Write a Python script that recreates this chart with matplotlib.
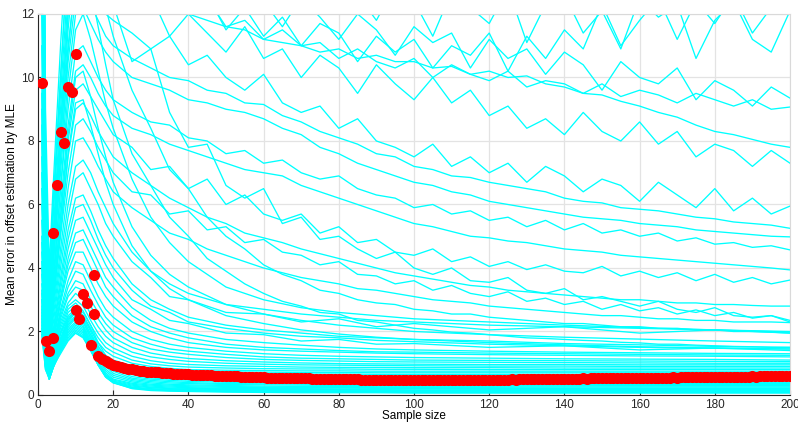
import matplotlib
matplotlib.use("Agg")
import matplotlib.pyplot as plt

# Sample-size grids on which the error curves are recorded
upper_x = [1, 2, 3, 4, 6, 8, 10, 12, 14, 16, 18] + list(range(20, 201, 5))
knot_x = [1, 2, 3, 4, 6, 8, 10, 12, 14, 16, 18, 20, 25, 30, 35, 40, 50, 60,
          70, 80, 90, 100, 120, 140, 160, 180, 200]

# Slowly converging trials (large errors)
upper_curves = [
    [30, 9, 4.0, 6.5, 11, 15, 18, 19, 19, 18.5, 17.5,
     16.5, 15.2, 15.8, 14.0, 14.6, 13.2, 13.9, 13.4, 12.5, 13.6, 12.9, 12.1, 13.3, 12.6, 11.8, 12.9, 12.4,
     11.3, 12.7, 12.2, 11.7, 12.8, 11.1, 12.3, 12.6, 11.4, 12.1, 10.9, 12.5, 11.9, 12.3, 10.6, 11.8, 12.4,
     11.2, 10.8, 12.1],
    [27, 7.5, 3.2, 5.8, 10, 14, 17, 17.5, 17, 16.3, 15.6,
     14.8, 14.1, 13.2, 12.9, 12.1, 12.6, 11.5, 12.2, 11.3, 11.9, 11.0, 11.7, 11.4, 10.5, 11.3, 10.8, 11.2,
     10.3, 11.0, 10.7, 11.4, 10.2, 11.3, 10.6, 11.5, 10.9, 12.3, 11.0, 11.8, 12.5, 11.2, 12.4, 11.7, 12.6,
     11.4, 12.2, 12.0],
    [28, 8, 3.5, 6, 10, 14, 16.5, 17, 16.5, 16, 15.5,
     15.0, 14.6, 13.2, 14.0, 12.9, 13.3, 12.1, 12.8, 12.4, 11.6, 12.5, 11.9, 11.2, 12.0, 11.5, 10.7, 11.6,
     11.1, 11.4, 10.3, 11.2, 10.6, 10.9, 10.1, 10.8, 10.4, 9.6, 10.5, 10.0, 9.8, 10.3, 9.3, 9.9, 9.6, 9.1,
     9.7, 9.35],
    [26, 7, 3, 5.5, 9.5, 13, 15.5, 16, 15.5, 15, 14.5,
     14.0, 13.1, 13.3, 12.4, 12.2, 12.5, 11.6, 11.8, 11.2, 11.5, 11.0, 11.1, 10.6, 10.9, 10.5, 10.3, 10.6,
     10.0, 10.4, 10.1, 9.9, 10.2, 9.7, 9.9, 9.8, 9.5, 9.8, 9.4, 9.6, 9.45, 9.2, 9.5, 9.3, 9.1, 9.3, 9.0,
     9.07],
    [25, 7, 3, 5, 9, 12.5, 15, 15.5, 15, 14.5, 14,
     13.6, 13.0, 12.6, 12.3, 12.0, 11.8, 11.6, 11.5, 11.2, 11.1, 11.0, 10.8, 10.9, 10.6, 10.7, 10.5, 10.5,
     10.3, 10.35, 10.1, 10.2, 10.0, 10.05, 9.8, 9.7, 9.5, 9.45, 9.25, 9.1, 8.9, 8.75, 8.5, 8.3, 8.2, 8.05,
     7.9, 7.8],
    [24, 6.5, 2.8, 4.8, 8.5, 12, 14, 14.5, 14, 13.5, 13,
     12.8, 12.2, 12.6, 11.3, 12.0, 11.4, 10.8, 11.6, 10.6, 10.9, 10.0, 10.7, 10.3, 9.5, 10.4, 9.8, 9.3,
     10.0, 9.2, 9.6, 8.8, 9.1, 8.4, 8.7, 8.2, 8.9, 8.3, 8.0, 8.6, 7.9, 8.3, 7.5, 7.9, 7.7, 7.2, 7.7, 7.3],
    [22, 6, 2.5, 4.5, 8, 11, 13, 13.5, 13, 12.5, 12,
     11.8, 11.4, 10.9, 11.3, 10.4, 10.7, 10.0, 9.6, 10.1, 9.2, 8.9, 9.1, 8.4, 8.7, 8.0, 7.8, 7.5, 7.9, 7.2,
     7.5, 7.0, 7.3, 6.7, 7.2, 6.9, 6.4, 6.8, 6.6, 6.1, 6.7, 6.3, 5.9, 6.5, 5.8, 6.2, 5.7, 5.95],
    [21, 5.5, 2.3, 4.2, 7.5, 10.5, 12.5, 12.8, 12.3, 11.8, 11.3,
     11.0, 10.6, 10.3, 10.0, 9.9, 9.6, 9.5, 9.2, 9.15, 8.8, 8.6, 8.3, 8.1, 7.9, 7.6, 7.5, 7.2, 7.1, 6.9,
     6.85, 6.7, 6.6, 6.5, 6.4, 6.2, 6.1, 6.05, 5.9, 5.85, 5.8, 5.7, 5.6, 5.55, 5.45, 5.4, 5.35, 5.25],
    [20, 5, 2.1, 4, 7, 10, 12, 12.2, 11.7, 11.2, 10.8,
     10.5, 10.0, 9.8, 9.6, 9.3, 9.2, 9.0, 8.9, 8.7, 8.4, 8.2, 7.8, 7.6, 7.3, 7.1, 6.9, 6.7, 6.6, 6.4, 6.3,
     6.1, 6.0, 5.9, 5.8, 5.7, 5.6, 5.55, 5.5, 5.4, 5.35, 5.3, 5.2, 5.15, 5.1, 5.05, 5.0, 4.98],
    [18, 4.5, 1.9, 3.6, 6.5, 9, 10.8, 11, 10.5, 10, 9.6,
     9.3, 8.9, 8.6, 8.5, 8.1, 8.0, 7.6, 7.7, 7.3, 7.4, 7.0, 6.8, 6.9, 6.5, 6.3, 6.2, 5.9, 6.0, 5.7, 5.8,
     5.5, 5.6, 5.3, 5.5, 5.2, 5.4, 5.1, 5.2, 5.0, 5.1, 4.85, 4.95, 4.75, 4.8, 4.65, 4.7, 4.57],
    [17, 4.2, 1.8, 3.4, 6, 8.5, 10.2, 10.4, 10, 9.5, 9.1,
     8.8, 8.4, 8.2, 7.9, 7.7, 7.5, 7.3, 7.1, 7.0, 6.9, 6.6, 6.4, 6.2, 6.0, 5.8, 5.6, 5.4, 5.3, 5.15, 5.0,
     4.95, 4.85, 4.8, 4.7, 4.6, 4.55, 4.5, 4.4, 4.35, 4.3, 4.25, 4.2, 4.15, 4.1, 4.05, 4.0, 3.94],
    [16, 4, 1.7, 3.2, 5.6, 8, 9.6, 9.8, 9.4, 9, 8.6,
     8.2, 7.8, 7.1, 7.2, 6.5, 6.8, 6.0, 6.3, 5.7, 5.5, 5.7, 5.1, 5.3, 4.8, 4.9, 4.5, 4.4, 4.6, 4.2, 4.35,
     4.05, 4.2, 3.95, 4.1, 3.9, 3.85, 4.05, 3.75, 3.9, 3.7, 3.85, 3.6, 3.8, 3.55, 3.7, 3.5, 3.62],
    [15, 3.8, 1.6, 3, 5.2, 7.5, 9, 9.2, 8.8, 8.3, 7.9,
     7.5, 7.0, 6.6, 6.2, 5.9, 5.6, 5.4, 5.1, 4.95, 4.8, 4.6, 4.45, 4.3, 4.15, 4.0, 3.85, 3.75, 3.65, 3.55,
     3.45, 3.4, 3.3, 3.25, 3.2, 3.15, 3.1, 3.05, 3.0, 3.0, 2.95, 2.9, 2.9, 2.85, 2.85, 2.82, 2.8, 2.8],
    [14, 3.6, 1.5, 2.8, 5, 7, 8.5, 8.7, 8.3, 7.8, 7.4,
     7.0, 6.4, 6.3, 5.7, 5.8, 5.2, 5.3, 4.8, 4.9, 4.5, 4.4, 4.1, 4.2, 3.8, 3.75, 3.5, 3.6, 3.3, 3.45, 3.2,
     3.1, 3.25, 2.95, 3.05, 2.85, 2.95, 2.7, 2.85, 2.65, 2.75, 2.55, 2.68, 2.5, 2.6, 2.42, 2.5, 2.35],
    [13, 3.4, 1.4, 2.6, 4.6, 6.5, 8, 8.1, 7.7, 7.2, 6.8,
     6.4, 5.9, 5.5, 5.1, 4.9, 4.6, 4.4, 4.2, 4.0, 3.85, 3.7, 3.6, 3.5, 3.35, 3.3, 3.2, 3.1, 3.0, 2.95, 2.9,
     2.8, 2.75, 2.7, 2.65, 2.6, 2.55, 2.5, 2.5, 2.45, 2.4, 2.4, 2.35, 2.35, 2.3, 2.3, 2.3, 2.28],
    [24, 6.5, 2.6, 4.6, 8.4, 12, 15, 15.5, 15, 14, 13,
     12.3, 10.5, 10.9, 8.9, 7.8, 7.9, 6.6, 6.2, 6.5, 5.4, 5.6, 4.9, 5.0, 4.6, 4.3, 4.5, 4.0, 3.8, 4.0, 3.6,
     3.55, 3.7, 3.3, 3.2, 3.35, 3.0, 3.1, 2.95, 2.8, 2.95, 2.7, 2.6, 2.75, 2.5, 2.45, 2.5, 2.3],
    [22, 6, 2.4, 4.4, 8, 11.5, 14, 14.5, 14, 13.2, 12.2,
     11.3, 9.6, 8.4, 7.1, 6.5, 5.6, 5.0, 4.6, 4.1, 3.8, 3.6, 3.3, 3.2, 3.0, 2.9, 2.85, 2.7, 2.65, 2.55,
     2.55, 2.45, 2.4, 2.35, 2.3, 2.25, 2.25, 2.2, 2.15, 2.15, 2.1, 2.1, 2.05, 2.05, 2.0, 2.0, 1.98, 1.95],
    [20, 5.5, 2.2, 4.0, 7.4, 10.8, 13.2, 13.6, 12.8, 11.6, 10.4,
     9.3, 7.6, 6.6, 5.6, 5.0, 4.3, 3.9, 3.5, 3.2, 2.95, 2.8, 2.6, 2.55, 2.35, 2.3, 2.2, 2.1, 2.05, 1.98,
     1.95, 1.9, 1.85, 1.8, 1.78, 1.75, 1.72, 1.7, 1.66, 1.64, 1.6, 1.6, 1.57, 1.55, 1.53, 1.52, 1.5, 1.5],
]

# Trials that settle between roughly 0.6 and 2
middle_curves = [
    [20, 5, 2, 3.5, 6.5, 9.5, 11.5, 12, 11.2, 10.2, 9.2, 8.4, 6.8, 5.6, 4.8, 4.2, 3.4, 3.0, 2.75, 2.6, 2.5, 2.4, 2.3, 2.2, 2.12, 2.05, 1.98],
    [16, 4.2, 1.7, 3.0, 5.6, 8.2, 10, 10.2, 9.4, 8.4, 7.5, 6.7, 5.3, 4.4, 3.8, 3.4, 2.85, 2.55, 2.35, 2.2, 2.1, 2.0, 1.9, 1.82, 1.76, 1.7, 1.65],
    [15, 4, 1.6, 2.8, 5.2, 7.6, 9.2, 9.3, 8.5, 7.6, 6.7, 6.0, 4.7, 3.9, 3.35, 3.0, 2.5, 2.25, 2.05, 1.92, 1.82, 1.75, 1.65, 1.58, 1.52, 1.48, 1.45],
    [12, 3.2, 1.3, 2.4, 4.3, 6.0, 7.2, 7.4, 7.0, 6.4, 5.9, 5.4, 4.5, 3.9, 3.5, 3.2, 2.85, 2.7, 2.55, 2.45, 2.35, 2.3, 2.2, 2.15, 2.1, 2.05, 2.0],
    [11, 3.0, 1.2, 2.2, 4.0, 5.6, 6.8, 7.0, 6.5, 6.0, 5.4, 5.0, 4.2, 3.7, 3.1, 3.0, 2.6, 2.55, 2.3, 2.4, 2.15, 2.25, 2.05, 2.15, 1.95, 2.05, 1.95],
    [10, 2.8, 1.1, 2.0, 3.7, 5.2, 6.2, 6.3, 5.8, 5.2, 4.7, 4.3, 3.5, 3.0, 2.7, 2.45, 2.2, 2.05, 1.95, 1.85, 1.8, 1.75, 1.7, 1.62, 1.58, 1.53, 1.5],
    [9.5, 2.7, 1.0, 1.9, 3.5, 4.9, 5.9, 6.0, 5.5, 4.9, 4.4, 4.0, 3.3, 2.8, 2.6, 2.3, 2.1, 1.95, 1.85, 1.8, 1.72, 1.68, 1.6, 1.55, 1.5, 1.47, 1.45],
    [9, 2.6, 1.0, 1.8, 3.3, 4.6, 5.5, 5.6, 5.1, 4.6, 4.1, 3.7, 3.0, 2.7, 2.35, 2.25, 1.95, 1.9, 1.7, 1.75, 1.6, 1.62, 1.5, 1.55, 1.42, 1.48, 1.4],
    [8.5, 2.5, 0.95, 1.7, 3.1, 4.3, 5.1, 5.2, 4.7, 4.2, 3.7, 3.4, 2.75, 2.35, 2.1, 1.95, 1.75, 1.65, 1.57, 1.5, 1.45, 1.42, 1.38, 1.35, 1.33, 1.31, 1.3],
    [8, 2.4, 0.9, 1.65, 3.0, 4.1, 4.8, 4.9, 4.4, 3.9, 3.4, 3.1, 2.5, 2.15, 1.95, 1.8, 1.6, 1.5, 1.45, 1.4, 1.36, 1.35, 1.32, 1.3, 1.28, 1.26, 1.25],
    [7.5, 2.3, 0.85, 1.6, 2.9, 3.9, 4.5, 4.5, 4.0, 3.5, 3.1, 2.8, 2.3, 2.0, 1.8, 1.65, 1.5, 1.42, 1.38, 1.35, 1.32, 1.3, 1.27, 1.25, 1.23, 1.22, 1.2],
    [7, 2.2, 0.8, 1.5, 2.7, 3.6, 4.2, 4.1, 3.6, 3.1, 2.7, 2.45, 2.0, 1.75, 1.6, 1.5, 1.38, 1.3, 1.25, 1.22, 1.2, 1.18, 1.16, 1.14, 1.13, 1.12, 1.1],
    [6.5, 2.1, 0.8, 1.45, 2.6, 3.4, 3.9, 3.8, 3.3, 2.85, 2.45, 2.2, 1.8, 1.6, 1.45, 1.38, 1.28, 1.2, 1.16, 1.14, 1.12, 1.1, 1.09, 1.08, 1.07, 1.06, 1.05],
    [6, 2.0, 0.75, 1.4, 2.5, 3.2, 3.6, 3.5, 3.0, 2.6, 2.25, 2.0, 1.65, 1.45, 1.35, 1.28, 1.18, 1.12, 1.09, 1.07, 1.05, 1.04, 1.03, 1.02, 1.01, 1.0, 1.0],
    [5.5, 1.9, 0.7, 1.35, 2.4, 3.1, 3.4, 3.3, 2.8, 2.4, 2.05, 1.8, 1.5, 1.32, 1.22, 1.15, 1.08, 1.04, 1.01, 0.99, 0.98, 0.97, 0.96, 0.96, 0.95, 0.95, 0.95],
    [5, 1.8, 0.7, 1.3, 2.3, 2.9, 3.2, 3.0, 2.55, 2.15, 1.85, 1.65, 1.35, 1.2, 1.12, 1.06, 1.0, 0.97, 0.95, 0.94, 0.93, 0.92, 0.91, 0.91, 0.9, 0.9, 0.9],
    [4.8, 1.7, 0.65, 1.25, 2.2, 2.8, 3.0, 2.8, 2.35, 1.95, 1.65, 1.48, 1.22, 1.08, 1.0, 0.96, 0.92, 0.9, 0.88, 0.87, 0.87, 0.86, 0.86, 0.85, 0.85, 0.85, 0.85],
    [4.5, 1.7, 0.6, 1.2, 2.1, 2.7, 2.9, 2.65, 2.2, 1.8, 1.5, 1.35, 1.1, 0.98, 0.92, 0.88, 0.85, 0.83, 0.82, 0.82, 0.81, 0.81, 0.8, 0.8, 0.8, 0.8, 0.8],
    [4.2, 1.6, 0.6, 1.15, 2.0, 2.6, 2.8, 2.5, 2.05, 1.65, 1.38, 1.22, 1.0, 0.9, 0.84, 0.8, 0.78, 0.77, 0.76, 0.76, 0.75, 0.75, 0.75, 0.75, 0.75, 0.75, 0.75],
    [4, 1.5, 0.55, 1.1, 1.95, 2.5, 2.7, 2.4, 1.9, 1.5, 1.25, 1.1, 0.92, 0.83, 0.78, 0.75, 0.73, 0.72, 0.71, 0.71, 0.7, 0.7, 0.7, 0.7, 0.7, 0.7, 0.7],
    [3.8, 1.5, 0.55, 1.05, 1.9, 2.45, 2.6, 2.3, 1.8, 1.4, 1.15, 1.0, 0.85, 0.77, 0.72, 0.7, 0.68, 0.67, 0.66, 0.66, 0.65, 0.65, 0.65, 0.65, 0.65, 0.65, 0.65],
]

# Quickly converging trials (small errors)
lower_curves = [
    [3.5, 1.4, 0.6, 1.0, 1.8, 2.4, 2.7, 2.6, 2.2, 1.65, 1.25, 0.98, 0.7, 0.6, 0.55, 0.52, 0.48, 0.46, 0.45, 0.44, 0.43, 0.42, 0.41, 0.41, 0.40, 0.40, 0.40],
    [3.3, 1.3, 0.6, 1.0, 1.75, 2.35, 2.65, 2.5, 2.1, 1.55, 1.15, 0.9, 0.64, 0.54, 0.5, 0.47, 0.43, 0.41, 0.40, 0.39, 0.38, 0.38, 0.37, 0.37, 0.36, 0.36, 0.36],
    [3.2, 1.3, 0.55, 0.95, 1.7, 2.3, 2.6, 2.45, 2.0, 1.45, 1.05, 0.82, 0.58, 0.5, 0.46, 0.43, 0.4, 0.38, 0.37, 0.36, 0.35, 0.35, 0.34, 0.34, 0.33, 0.33, 0.33],
    [3.0, 1.2, 0.5, 0.9, 1.65, 2.25, 2.5, 2.35, 1.9, 1.35, 0.98, 0.75, 0.53, 0.46, 0.42, 0.39, 0.36, 0.35, 0.34, 0.33, 0.32, 0.32, 0.31, 0.31, 0.30, 0.30, 0.30],
    [3.0, 1.25, 0.6, 1.0, 1.7, 2.2, 2.45, 2.3, 1.8, 1.28, 0.9, 0.68, 0.49, 0.42, 0.38, 0.36, 0.33, 0.32, 0.31, 0.30, 0.30, 0.29, 0.29, 0.28, 0.28, 0.28, 0.28],
    [2.8, 1.1, 0.5, 0.9, 1.6, 2.15, 2.4, 2.2, 1.72, 1.2, 0.82, 0.62, 0.45, 0.38, 0.34, 0.32, 0.30, 0.28, 0.27, 0.27, 0.26, 0.26, 0.26, 0.25, 0.25, 0.25, 0.25],
    [2.7, 1.1, 0.55, 0.95, 1.6, 2.1, 2.3, 2.15, 1.65, 1.12, 0.76, 0.56, 0.41, 0.34, 0.31, 0.29, 0.27, 0.25, 0.24, 0.24, 0.23, 0.23, 0.23, 0.22, 0.22, 0.22, 0.22],
    [2.6, 1.0, 0.5, 0.85, 1.55, 2.05, 2.25, 2.1, 1.6, 1.05, 0.7, 0.5, 0.37, 0.31, 0.28, 0.26, 0.24, 0.23, 0.22, 0.22, 0.21, 0.21, 0.21, 0.20, 0.20, 0.20, 0.20],
    [2.5, 1.0, 0.55, 0.9, 1.5, 2.0, 2.2, 2.05, 1.55, 1.0, 0.65, 0.47, 0.34, 0.28, 0.25, 0.23, 0.21, 0.20, 0.20, 0.19, 0.19, 0.19, 0.18, 0.18, 0.18, 0.18, 0.18],
    [2.4, 0.95, 0.5, 0.85, 1.5, 1.95, 2.15, 2.0, 1.5, 0.98, 0.62, 0.44, 0.31, 0.25, 0.22, 0.21, 0.19, 0.18, 0.17, 0.17, 0.17, 0.16, 0.16, 0.16, 0.16, 0.16, 0.16],
    [2.3, 0.9, 0.55, 0.9, 1.45, 1.9, 2.1, 1.95, 1.48, 0.96, 0.6, 0.42, 0.28, 0.23, 0.2, 0.19, 0.17, 0.16, 0.15, 0.15, 0.15, 0.14, 0.14, 0.14, 0.14, 0.14, 0.14],
    [2.2, 0.9, 0.5, 0.85, 1.4, 1.85, 2.05, 1.9, 1.45, 0.95, 0.58, 0.4, 0.25, 0.2, 0.18, 0.17, 0.15, 0.14, 0.13, 0.13, 0.13, 0.12, 0.12, 0.12, 0.12, 0.12, 0.12],
    [2.1, 0.85, 0.55, 0.9, 1.4, 1.8, 2.0, 1.85, 1.42, 0.95, 0.57, 0.39, 0.23, 0.18, 0.16, 0.15, 0.13, 0.12, 0.11, 0.11, 0.11, 0.10, 0.10, 0.10, 0.10, 0.10, 0.10],
    [2.0, 0.8, 0.5, 0.85, 1.35, 1.75, 1.95, 1.82, 1.4, 0.94, 0.56, 0.38, 0.21, 0.16, 0.14, 0.13, 0.11, 0.10, 0.09, 0.09, 0.09, 0.08, 0.08, 0.08, 0.08, 0.08, 0.08],
    [1.9, 0.8, 0.55, 0.9, 1.3, 1.7, 1.95, 1.8, 1.4, 0.95, 0.58, 0.4, 0.2, 0.14, 0.12, 0.11, 0.09, 0.08, 0.07, 0.07, 0.07, 0.06, 0.06, 0.06, 0.06, 0.06, 0.06],
]

# Mean error over all trials at each sample size
mean_x = [1, 2, 3, 4, 4, 5, 6, 7, 8, 9, 10, 10, 11, 12, 13, 14, 15, 15] + list(range(16, 201))
mean_err = [
    9.82, 1.71, 1.40, 1.80, 5.09, 6.61, 8.27, 7.93, 9.69, 9.55, 10.73, 2.68, 2.40, 3.19, 2.91, 1.56, 3.79, 2.55,
    # 16-40
    1.22, 1.13, 1.06, 1.00, 0.95, 0.91, 0.88, 0.85, 0.83, 0.81, 0.79, 0.77, 0.76, 0.74, 0.73,
    0.72, 0.71, 0.70, 0.69, 0.68, 0.67, 0.67, 0.66, 0.65, 0.65,
    # 41-100
    0.64, 0.64, 0.63, 0.63, 0.62, 0.62, 0.61, 0.61, 0.60, 0.60,
    0.60, 0.59, 0.59, 0.58, 0.58, 0.57, 0.57, 0.57, 0.56, 0.56,
    0.55, 0.55, 0.55, 0.54, 0.54, 0.54, 0.53, 0.53, 0.53, 0.52,
    0.52, 0.52, 0.51, 0.51, 0.51, 0.51, 0.50, 0.50, 0.50, 0.50,
    0.49, 0.49, 0.49, 0.49, 0.49, 0.48, 0.48, 0.48, 0.48, 0.48,
    0.48, 0.47, 0.47, 0.47, 0.47, 0.47, 0.47, 0.47, 0.47, 0.47,
    # 101-160
    0.47, 0.46, 0.47, 0.46, 0.47, 0.46, 0.46, 0.47, 0.46, 0.47,
    0.47, 0.46, 0.47, 0.47, 0.47, 0.47, 0.47, 0.48, 0.47, 0.48,
    0.48, 0.48, 0.48, 0.48, 0.48, 0.49, 0.48, 0.49, 0.49, 0.49,
    0.49, 0.49, 0.50, 0.49, 0.50, 0.50, 0.50, 0.50, 0.50, 0.51,
    0.51, 0.51, 0.51, 0.51, 0.52, 0.51, 0.52, 0.52, 0.52, 0.52,
    0.53, 0.52, 0.53, 0.53, 0.53, 0.53, 0.54, 0.53, 0.54, 0.54,
    # 161-200
    0.54, 0.54, 0.55, 0.54, 0.55, 0.55, 0.55, 0.55, 0.56, 0.55,
    0.56, 0.56, 0.56, 0.56, 0.56, 0.57, 0.56, 0.57, 0.57, 0.57,
    0.57, 0.57, 0.58, 0.57, 0.58, 0.58, 0.58, 0.58, 0.58, 0.59,
    0.58, 0.59, 0.59, 0.59, 0.59, 0.59, 0.60, 0.59, 0.60, 0.60,
]

x_ticks = list(range(0, 201, 20))
y_ticks = list(range(0, 13, 2))

plt.rcParams['font.family'] = ['Liberation Sans', 'DejaVu Sans']

fig = plt.figure(figsize=(7.98, 4.24), dpi=100)
ax = fig.add_axes([0.0476, 0.0684, 0.9424, 0.8986])

line_kw = dict(color='#00ffff', lw=0.95, zorder=2)
for ys in upper_curves:
    ax.plot(upper_x, ys, **line_kw)
for ys in middle_curves:
    ax.plot(knot_x, ys, **line_kw)
for ys in lower_curves:
    ax.plot(knot_x, ys, **line_kw)

ax.plot(mean_x, mean_err, 'o', color='#ff0000', ms=8, mec='none', zorder=3)

ax.set_xlim(0, 200)
ax.set_ylim(0, 12)
ax.set_xticks(x_ticks)
ax.set_yticks(y_ticks)
ax.grid(True, color='#e3e3e3', lw=0.9, zorder=0)
ax.set_axisbelow(True)

dark = '#262626'
for side in ('left', 'bottom'):
    ax.spines[side].set_color(dark)
    ax.spines[side].set_linewidth(0.8)
for side in ('top', 'right'):
    ax.spines[side].set_color('#d9d9d9')
    ax.spines[side].set_linewidth(0.8)
ax.tick_params(direction='in', length=3.5, width=0.8, color=dark,
               labelcolor=dark, labelsize=8.5, pad=3)

ax.set_xlabel('Sample size', fontsize=8.5, color='black', labelpad=-1)
ax.set_ylabel('Mean error in offset estimation by MLE', fontsize=8.5,
              color='black', labelpad=2)

fig.savefig('out.png', dpi=100)
